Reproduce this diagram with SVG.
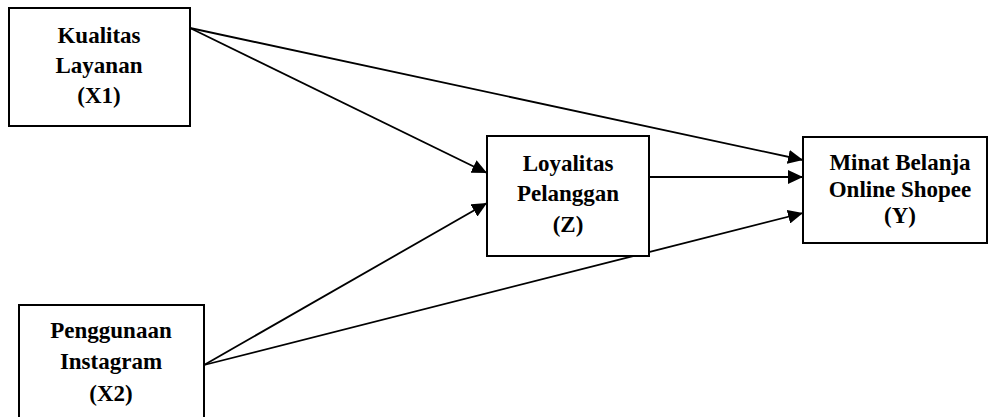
<svg xmlns="http://www.w3.org/2000/svg" width="989" height="417" viewBox="0 0 989 417">
<style>
.box{fill:#fff;stroke:#000;stroke-width:2}
.t{font-family:"Liberation Serif","Times New Roman",serif;font-weight:bold;font-size:23px;text-anchor:middle;fill:#000}
.c{stroke:#000;stroke-width:1.8;fill:none;marker-end:url(#ah)}
</style>
<defs>
<marker id="ah" markerUnits="userSpaceOnUse" markerWidth="16" markerHeight="14" refX="15" refY="7" orient="auto">
<path d="M0,0 L15,7 L0,14 Z" fill="#000"/>
</marker>
</defs>
<g id="connectors">
<line class="c" x1="190" y1="28" x2="803" y2="160"/>
<line class="c" x1="190" y1="28" x2="487" y2="173"/>
<line class="c" x1="649" y1="177" x2="803" y2="177"/>
<line class="c" x1="204" y1="365" x2="487" y2="203"/>
<line class="c" x1="204" y1="365" x2="803" y2="213"/>
</g>
<g id="x1">
<rect class="box" x="9" y="8" width="181" height="118"/>
<text class="t" x="99" y="43">Kualitas</text>
<text class="t" x="99" y="73">Layanan</text>
<text class="t" x="99" y="103">(X1)</text>
</g>
<g id="z">
<rect class="box" x="487" y="136" width="162" height="120"/>
<text class="t" x="568" y="171">Loyalitas</text>
<text class="t" x="568" y="201">Pelanggan</text>
<text class="t" x="568" y="232">(Z)</text>
</g>
<g id="y">
<rect class="box" x="803" y="137" width="184" height="106"/>
<text class="t" x="900" y="170">Minat Belanja</text>
<text class="t" x="900" y="197">Online Shopee</text>
<text class="t" x="900" y="223">(Y)</text>
</g>
<g id="x2">
<rect class="box" x="19" y="305" width="185" height="130"/>
<text class="t" x="111" y="338">Penggunaan</text>
<text class="t" x="111" y="369">Instagram</text>
<text class="t" x="111" y="401">(X2)</text>
</g>
</svg>
